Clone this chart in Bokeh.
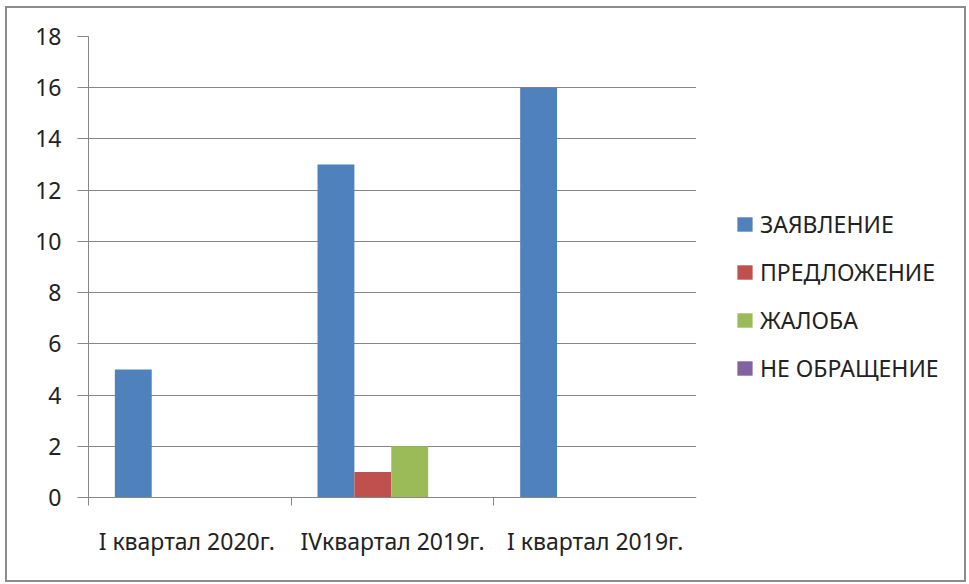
from bokeh.plotting import figure
from bokeh.layouts import row
from bokeh.models import ColumnDataSource, Range1d, FixedTicker, Legend, LegendItem
from bokeh.transform import dodge
from bokeh.embed import file_html
from bokeh.resources import INLINE

categories = ["I  квартал 2020г.", "IVквартал 2019г.", "I квартал 2019г."]
series_names = ["ЗАЯВЛЕНИЕ", "ПРЕДЛОЖЕНИЕ", "ЖАЛОБА", "НЕ ОБРАЩЕНИЕ"]
zayavlenie = [5, 13, 16]
predlozhenie = [0, 1, 0]
zhaloba = [0, 2, 0]
ne_obrashchenie = [0, 0, 0]
colors = ["#4F81BD", "#C0504D", "#9BBB59", "#8064A2"]
y_ticks = [0, 2, 4, 6, 8, 10, 12, 14, 16, 18]

FONT = "Noto Sans"
GRID = "#868686"
TEXT = "#222222"

centers = [i + 0.5 for i in range(len(categories))]
source = ColumnDataSource(dict(
    x=centers,
    s0=zayavlenie, s1=predlozhenie, s2=zhaloba, s3=ne_obrashchenie,
))

p = figure(width=689, height=572, x_range=Range1d(0, len(categories)),
           y_range=Range1d(0, 18), output_backend="svg", toolbar_location=None,
           min_border_left=81, min_border_top=28, min_border_right=0,
           min_border_bottom=83)
p.outline_line_color = None
p.background_fill_color = "white"
p.border_fill_color = "white"

bw = 0.182
renderers = []
for i, name in enumerate(series_names):
    r = p.vbar(x=dodge("x", (i - 1.5) * bw - 0.006, range=p.x_range), top="s%d" % i,
               width=bw, source=source, fill_color=colors[i], line_color=None)
    renderers.append(r)

# y axis
p.yaxis.ticker = FixedTicker(ticks=y_ticks)
p.yaxis.axis_line_color = GRID
p.yaxis.major_tick_line_color = GRID
p.yaxis.major_tick_out = 11
p.yaxis.major_tick_in = 0
p.yaxis.minor_tick_line_color = None
p.yaxis.major_label_standoff = 16
p.yaxis.major_label_text_font = FONT
p.yaxis.major_label_text_font_size = "23px"
p.yaxis.major_label_text_color = TEXT

# x axis: labels at category centers, ticks at boundaries
p.xaxis.ticker = FixedTicker(ticks=centers,
                             minor_ticks=list(range(len(categories) + 1)))
p.xaxis.major_label_overrides = {c: lab for c, lab in zip(centers, categories)}
p.xaxis.axis_line_color = GRID
p.xaxis.major_tick_line_color = None
p.xaxis.major_tick_out = 0
p.xaxis.minor_tick_line_color = GRID
p.xaxis.minor_tick_out = 8
p.xaxis.minor_tick_in = 0
p.xaxis.major_label_standoff = 19
p.xaxis.major_label_text_font = FONT
p.xaxis.major_label_text_font_size = "23px"
p.xaxis.major_label_text_color = TEXT

p.xgrid.visible = False
p.ygrid.ticker = FixedTicker(ticks=y_ticks)
p.ygrid.grid_line_color = GRID
p.ygrid.grid_line_width = 1

# legend panel (separate figure so the legend is not clipped by the plot frame)
lp = figure(width=268, height=572, x_range=Range1d(0, 1), y_range=Range1d(0, 1),
            x_axis_type=None, y_axis_type=None, output_backend="svg",
            toolbar_location=None, min_border=0)
lp.outline_line_color = None
lp.xgrid.visible = False
lp.ygrid.visible = False
# legend proxies: placed outside the visible range so only their legend swatches show
proxies = [lp.vbar(x=[-10], top=[-10], bottom=[-11], width=0.1, fill_color=c, line_color=None)
           for c in colors]

legend = Legend(items=[LegendItem(label=n, renderers=[r]) for n, r in zip(series_names, proxies)],
                location=(39, 113), margin=0, padding=0, border_line_color=None,
                background_fill_alpha=0, glyph_width=19, glyph_height=18,
                label_height=32, spacing=16, label_standoff=6,
                label_text_font=FONT, label_text_font_size="23px",
                label_text_color=TEXT)
lp.add_layout(legend, "center")

layout = row(p, lp)
layout.styles = {"border": "2px solid #8c8c8c", "margin-left": "5px", "margin-top": "6px"}

open("out.html", "w").write(file_html(layout, INLINE))
